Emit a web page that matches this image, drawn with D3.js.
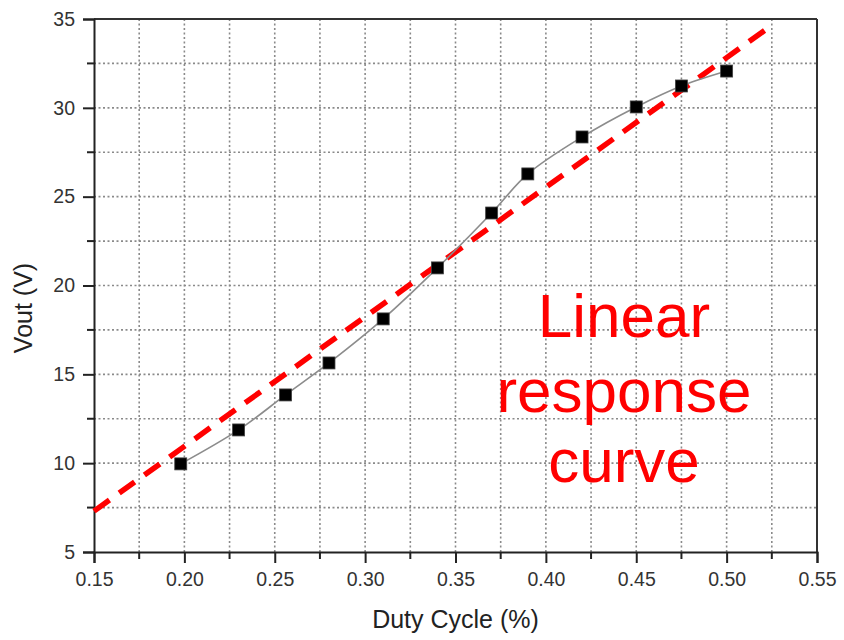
<!DOCTYPE html>
<html>
<head>
<meta charset="utf-8">
<script src="https://cdn.jsdelivr.net/npm/d3@7"></script>
<style>
  html, body { margin: 0; padding: 0; background: #fff; }
  svg { display: block; font-family: Arial, "Liberation Sans", sans-serif; }
</style>
</head>
<body>
<svg id="chart" width="844" height="640"></svg>
<script>
// Measured output voltage against PWM duty cycle
const dutyCycle = [0.198, 0.23, 0.256, 0.28, 0.31, 0.34, 0.37, 0.39, 0.42, 0.45, 0.475, 0.50];
const vout      = [9.96, 11.87, 13.84, 15.64, 18.12, 20.99, 24.08, 26.28, 28.36, 30.05, 31.23, 32.07];

// Ideal linear response (endpoints of the straight reference line)
const fitDuty = [0.15, 0.523];
const fitVout = [7.3, 34.5];

// Axis ticks
const xTicks = [0.15, 0.20, 0.25, 0.30, 0.35, 0.40, 0.45, 0.50, 0.55];
const xMinor = [0.175, 0.225, 0.275, 0.325, 0.375, 0.425, 0.475, 0.525];
const yTicks = [5, 10, 15, 20, 25, 30, 35];
const yMinor = [7.5, 12.5, 17.5, 22.5, 27.5, 32.5];

const annotationLines = ["Linear", "response", "curve"];

const svg = d3.select("#chart");
const margin = { top: 19, right: 27, bottom: 88, left: 94 };
const W = 844, H = 640;
const iw = W - margin.left - margin.right;
const ih = H - margin.top - margin.bottom;

const x = d3.scaleLinear().domain([0.15, 0.55]).range([0, iw]);
const y = d3.scaleLinear().domain([5, 35]).range([ih, 0]);

const g = svg.append("g").attr("transform", `translate(${margin.left},${margin.top})`);

// dotted grid on every major and minor tick
const gridColor = "#8a8a8a";
const gx = [...xTicks, ...xMinor].filter(v => v > 0.15 && v < 0.55);
const gy = [...yTicks, ...yMinor].filter(v => v > 5 && v < 35);
g.append("g").selectAll("line").data(gx).join("line")
  .attr("x1", d => x(d)).attr("x2", d => x(d))
  .attr("y1", 0).attr("y2", ih)
  .attr("stroke", gridColor).attr("stroke-width", 1.6)
  .attr("stroke-dasharray", "2,2.5");
g.append("g").selectAll("line").data(gy).join("line")
  .attr("y1", d => y(d)).attr("y2", d => y(d))
  .attr("x1", 0).attr("x2", iw)
  .attr("stroke", gridColor).attr("stroke-width", 1.6)
  .attr("stroke-dasharray", "2,2.5");

// frame: top and right border
g.append("line").attr("x1", 0).attr("x2", iw).attr("y1", 0).attr("y2", 0)
  .attr("stroke", "#333").attr("stroke-width", 2);
g.append("line").attr("x1", iw).attr("x2", iw).attr("y1", 0).attr("y2", ih)
  .attr("stroke", "#333").attr("stroke-width", 2);

// axes
const fmtX = d3.format(".2f");
const xAxis = g.append("g").attr("transform", `translate(0,${ih})`)
  .call(d3.axisBottom(x).tickValues(xTicks).tickFormat(fmtX).tickSize(11).tickPadding(8));
xAxis.append("g").selectAll("line").data(xMinor).join("line")
  .attr("x1", d => x(d)).attr("x2", d => x(d)).attr("y1", 0).attr("y2", 7)
  .attr("stroke", "#222").attr("stroke-width", 2);

const yAxis = g.append("g")
  .call(d3.axisLeft(y).tickValues(yTicks).tickFormat(d3.format("d")).tickSize(11).tickPadding(8));
yAxis.append("g").selectAll("line").data(yMinor).join("line")
  .attr("y1", d => y(d)).attr("y2", d => y(d)).attr("x1", 0).attr("x2", -7)
  .attr("stroke", "#222").attr("stroke-width", 2);

[xAxis, yAxis].forEach(a => {
  a.select(".domain").attr("stroke", "#222").attr("stroke-width", 2);
  a.selectAll(".tick line").attr("stroke", "#222").attr("stroke-width", 2);
  a.selectAll(".tick text").attr("fill", "#333").style("font-size", "19.5px")
    .style("font-family", "Arial, 'Liberation Sans', sans-serif");
});
xAxis.selectAll(".tick text").attr("dy", "0.78em");

// straight reference line
const fitData = fitDuty.map((d, i) => [d, fitVout[i]]);
g.append("path").datum(fitData)
  .attr("d", d3.line().x(d => x(d[0])).y(d => y(d[1])))
  .attr("fill", "none").attr("stroke", "#ff0000").attr("stroke-width", 5.5)
  .attr("stroke-dasharray", "19,12");

// measured curve
const pts = dutyCycle.map((d, i) => [d, vout[i]]);
g.append("path").datum(pts)
  .attr("d", d3.line().x(d => x(d[0])).y(d => y(d[1])).curve(d3.curveCatmullRom))
  .attr("fill", "none").attr("stroke", "#8c8c8c").attr("stroke-width", 1.6);

const sq = 12;
g.append("g").selectAll("rect").data(pts).join("rect")
  .attr("x", d => x(d[0]) - sq / 2).attr("y", d => y(d[1]) - sq / 2)
  .attr("width", sq).attr("height", sq)
  .attr("fill", "#000").attr("stroke", "#444").attr("stroke-width", 0.8);

// annotation
const ann = g.append("text").attr("fill", "#ff0000")
  .attr("text-anchor", "middle").style("font-size", "62px")
  .style("font-family", "Arial, 'Liberation Sans', sans-serif");
const annBaselines = [318, 393, 463];
annotationLines.forEach((t, i) => {
  ann.append("tspan").attr("x", 530).attr("y", annBaselines[i]).text(t);
});

// axis titles
svg.append("text")
  .attr("x", margin.left + iw / 2).attr("y", 628)
  .attr("text-anchor", "middle").attr("fill", "#222")
  .style("font-size", "25px").text("Duty Cycle (%)");
svg.append("text")
  .attr("transform", `translate(32,308) rotate(-90)`)
  .attr("text-anchor", "middle").attr("fill", "#222")
  .style("font-size", "25px").text("Vout (V)");
</script>
</body>
</html>
